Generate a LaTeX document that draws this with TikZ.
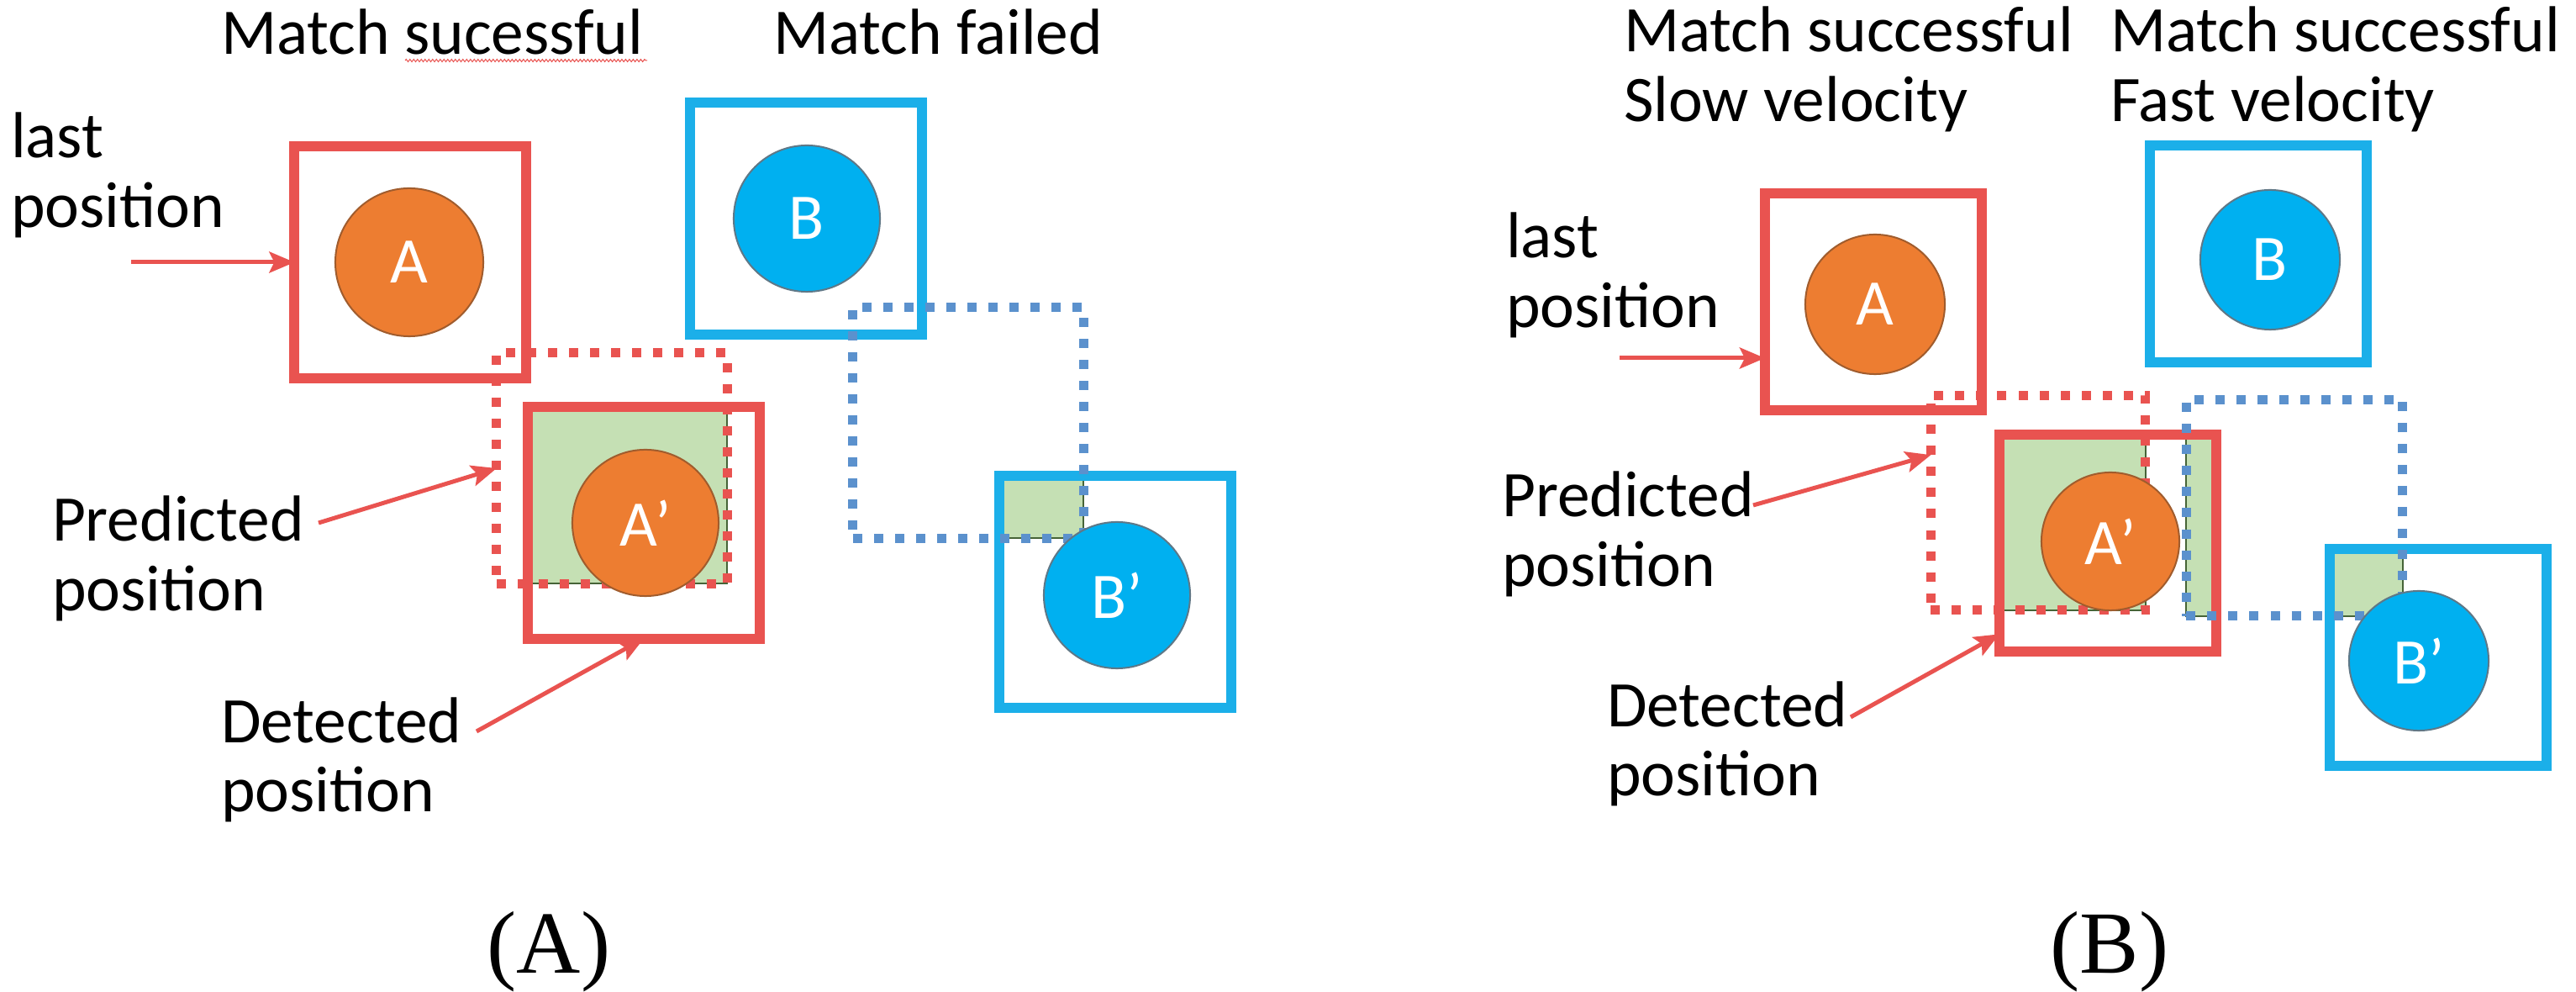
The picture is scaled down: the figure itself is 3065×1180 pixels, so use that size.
\documentclass[tikz,border=0pt]{standalone}
\usepackage{fontspec}
\setmainfont{Carlito}
\newfontfamily\capfont{Liberation Serif}
\usetikzlibrary{arrows.meta,backgrounds,decorations.pathmorphing}

\definecolor{boxred}{RGB}{233,83,80}
\definecolor{boxblue}{RGB}{27,175,233}
\definecolor{dotblue}{RGB}{91,145,205}
\definecolor{ballorange}{RGB}{237,125,49}
\definecolor{ballblue}{RGB}{0,176,240}
\definecolor{rimorange}{RGB}{160,92,45}
\definecolor{rimblue}{RGB}{95,120,135}
\definecolor{overlap}{RGB}{197,224,180}
\definecolor{overlaprim}{RGB}{70,100,55}

\begin{document}
\begin{tikzpicture}[x=0.01cm, y=-0.01cm,
    every node/.style={inner sep=0pt, outer sep=0pt},
    lbl/.style={anchor=base west, align=left, font=\fontsize{22pt}{23.6pt}\selectfont},
    panelcap/.style={anchor=base, font=\capfont\fontsize{30pt}{30pt}\selectfont},
    redbox/.style={rectangle, draw=boxred, line width=0.12cm, minimum size=#1},
    bluebox/.style={rectangle, draw=boxblue, line width=0.12cm, minimum size=#1},
    reddots/.style={rectangle, draw=boxred, line width=0.11cm, dash pattern=on 0.11cm off 0.14cm, minimum size=#1},
    bluedots/.style={rectangle, draw=dotblue, line width=0.11cm, dash pattern=on 0.11cm off 0.14cm, minimum size=#1},
    orangeball/.style={circle, fill=ballorange, draw=rimorange, line width=0.02cm, minimum size=#1, text=white, font=\fontsize{22pt}{22pt}\selectfont},
    blueball/.style={circle, fill=ballblue, draw=rimblue, line width=0.02cm, minimum size=#1, text=white, font=\fontsize{22pt}{22pt}\selectfont},
    pointer/.style={-{Stealth[length=0.3cm,width=0.25cm,inset=0.06cm]}, draw=boxred, line width=0.05cm},
    overlapfill/.style={fill=overlap, draw=overlaprim, line width=0.02cm}]
    \useasboundingbox (0,0) rectangle (3065,1180);

    % Panel (A): boxes
    \node[redbox=2.75cm] (boxA) at (488,312) {};
    \node[bluebox=2.75cm] (boxB) at (959,260) {};
    \node[redbox=2.75cm] (boxAd) at (766,622) {};
    \node[bluebox=2.75cm] (boxBd) at (1327,704) {};
    \node[reddots=2.74cm] (predA) at (728,557) {};
    \node[bluedots=2.74cm] (predB) at (1152,503) {};

    % Panel (A): objects
    \node[orangeball=1.76cm] (A) at (487,312) {A};
    \node[blueball=1.74cm] (B) at (960,260) {B};
    \node[orangeball=1.74cm] (Ad) at (768,622) {A’};
    \node[blueball=1.74cm] (Bd) at (1329,708) {B’};

    % Panel (A): texts (two-line labels sit on their last baseline)
    \node[lbl] (titleA1) at (263,65) {Match sucessful};
    \node[lbl] (titleA2) at (920,65) {Match failed};
    \node[lbl] (lastA) at (13,271) {last\\position};
    \node[lbl] (predtxtA) at (62,727) {Predicted\\position};
    \node[lbl] (dettxtA) at (263,966) {Detected\\position};
    \node[panelcap] (capA) at (653,1158) {(A)};
    \draw[boxred, line width=0.01cm, decorate, decoration={zigzag, amplitude=0.015cm, segment length=0.045cm}]
        ([xshift=2.19cm,yshift=-0.07cm]titleA1.base west) -- ([xshift=0.05cm,yshift=-0.07cm]titleA1.base east);

    % Panel (B): boxes
    \node[redbox=2.58cm] (boxA2) at (2229,359) {};
    \node[bluebox=2.58cm] (boxB2) at (2687,302) {};
    \node[redbox=2.58cm] (boxAd2) at (2508,646) {};
    \node[bluebox=2.58cm] (boxBd2) at (2901,782) {};
    \node[reddots=2.55cm] (predA2) at (2425,598) {};
    \node[bluedots=2.57cm] (predB2) at (2730,604) {};

    % Panel (B): objects
    \node[orangeball=1.66cm] (A2) at (2231,362) {A};
    \node[blueball=1.66cm] (B2) at (2701,309) {B};
    \node[orangeball=1.64cm] (Ad2) at (2511,644) {A’};
    \node[blueball=1.66cm] (Bd2) at (2878,786) {B’};

    % Panel (B): texts
    \node[lbl] (titleB1) at (1932,145) {Match successful\\Slow velocity};
    \node[lbl] (titleB2) at (2511,145) {Match successful\\Fast velocity};
    \node[lbl] (lastB) at (1792,390) {last\\position};
    \node[lbl] (predtxtB) at (1787,698) {Predicted\\position};
    \node[lbl] (dettxtB) at (1912,947) {Detected\\position};
    \node[panelcap] (capB) at (2510,1158) {(B)};

    % Overlaps
    \begin{scope}[on background layer]
        \filldraw[overlapfill] (boxAd.north west) rectangle (predA.south east);
        \filldraw[overlapfill] (boxBd.north west) rectangle (predB.south east);
        \filldraw[overlapfill] (boxAd2.north west) rectangle (predA2.south east);
        \filldraw[overlapfill] (predB2.west |- boxAd2.north) rectangle (boxAd2.east |- predB2.south);
        \filldraw[overlapfill] (boxBd2.north west) rectangle (predB2.south east);
    \end{scope}

    % Pointers
    \coordinate (fromLastA) at (156,312);
    \coordinate (fromPredA) at (379,622);
    \coordinate (fromDetA) at (567,870);
    \coordinate (fromLastB) at (1927,426);
    \coordinate (fromPredB) at (2086,601);
    \coordinate (fromDetB) at (2202,853);
    \draw[pointer] (fromLastA) -- (fromLastA -| boxA.west);
    \draw[pointer] (fromPredA) -- (predA.west);
    \draw[pointer] (fromDetA) -- (boxAd.south);
    \draw[pointer] (fromLastB) -- (fromLastB -| boxA2.west);
    \draw[pointer] (fromPredB) -- (predA2.156);
    \draw[pointer] (fromDetB) -- (boxAd2.220);
\end{tikzpicture}
\end{document}
